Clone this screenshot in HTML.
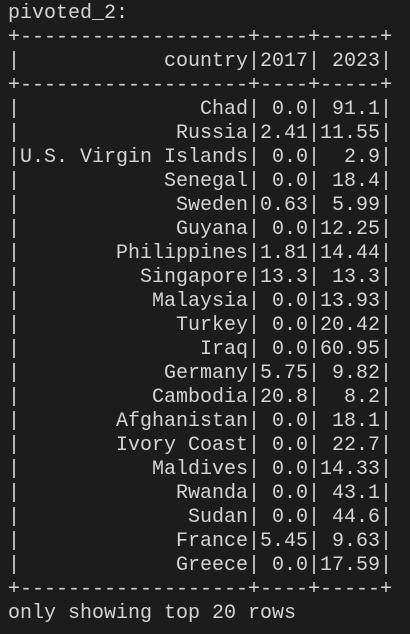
<!DOCTYPE html>
<html><head><meta charset="utf-8"><style>
html,body{margin:0;padding:0;background:#1c1c1c;width:410px;height:634px;overflow:hidden}
pre{margin:0;padding:2px 0 0 8px;font-family:"Liberation Mono","DejaVu Sans Mono",monospace;font-size:20px;line-height:24px;color:#d4d4d4;white-space:pre}
</style></head><body>
<pre><span>pivoted_2:</span>
<span>+-------------------+----+-----+
|            country|2017| 2023|
+-------------------+----+-----+
|               Chad| 0.0| 91.1|
|             Russia|2.41|11.55|
|U.S. Virgin Islands| 0.0|  2.9|
|            Senegal| 0.0| 18.4|
|             Sweden|0.63| 5.99|
|             Guyana| 0.0|12.25|
|        Philippines|1.81|14.44|
|          Singapore|13.3| 13.3|
|           Malaysia| 0.0|13.93|
|             Turkey| 0.0|20.42|
|               Iraq| 0.0|60.95|
|            Germany|5.75| 9.82|
|           Cambodia|20.8|  8.2|
|        Afghanistan| 0.0| 18.1|
|        Ivory Coast| 0.0| 22.7|
|           Maldives| 0.0|14.33|
|             Rwanda| 0.0| 43.1|
|              Sudan| 0.0| 44.6|
|             France|5.45| 9.63|
|             Greece| 0.0|17.59|
+-------------------+----+-----+</span>
<span>only showing top 20 rows</span></pre>
</body></html>
